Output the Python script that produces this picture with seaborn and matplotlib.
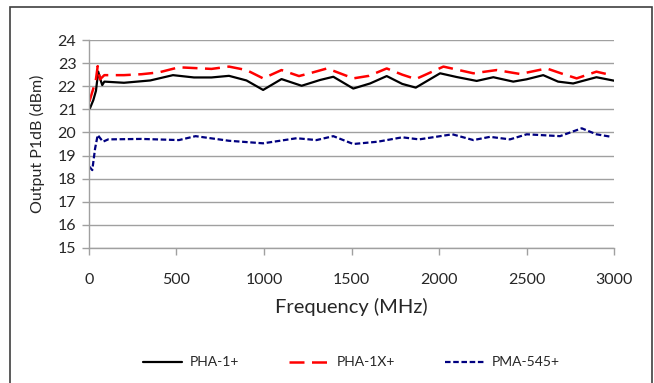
import pandas as pd
import matplotlib
matplotlib.use("Agg")
import matplotlib.pyplot as plt
from matplotlib.patches import Rectangle
import seaborn as sns

# values
freq_pha1 = [6, 25, 40, 53, 65, 76, 88, 200, 350, 480, 600, 700, 800, 900, 995, 1100, 1215,
             1320, 1396, 1510, 1606, 1701, 1790, 1867, 2006, 2100, 2215, 2310, 2424, 2500, 2595,
             2680, 2766, 2899, 3000]
p1db_pha1 = [21.05, 21.4, 21.8, 22.63, 22.3, 22.05, 22.2, 22.15, 22.25, 22.48, 22.38, 22.38,
             22.45, 22.25, 21.84, 22.31, 22.02, 22.27, 22.41, 21.9, 22.12, 22.44, 22.1, 21.94,
             22.56, 22.4, 22.23, 22.39, 22.2, 22.3, 22.48, 22.2, 22.12, 22.39, 22.24]

freq_pha1x = [2, 25, 40, 50, 63, 88, 200, 300, 400, 514, 700, 800, 900, 995, 1100, 1200,
              1280, 1360, 1396, 1510, 1600, 1701, 1790, 1867, 2025, 2196, 2329, 2463, 2615,
              2700, 2786, 2899, 2985]
p1db_pha1x = [21.33, 21.9, 22.3, 22.87, 22.3, 22.48, 22.48, 22.52, 22.6, 22.82, 22.75, 22.85,
              22.7, 22.34, 22.7, 22.44, 22.6, 22.77, 22.67, 22.34, 22.45, 22.77, 22.5, 22.31,
              22.85, 22.56, 22.7, 22.53, 22.77, 22.55, 22.34, 22.63, 22.48]

freq_pma545 = [2, 19, 35, 50, 80, 110, 300, 514, 609, 800, 995, 1186, 1300, 1396, 1510,
               1650, 1790, 1886, 2076, 2196, 2291, 2405, 2501, 2691, 2815, 2899, 2985]
p1db_pma545 = [18.52, 18.37, 19.3, 19.89, 19.6, 19.7, 19.72, 19.67, 19.84, 19.64, 19.53,
               19.75, 19.67, 19.84, 19.5, 19.6, 19.79, 19.7, 19.92, 19.67, 19.81, 19.7, 19.92,
               19.84, 20.18, 19.92, 19.81]

x_ticks = [0, 500, 1000, 1500, 2000, 2500, 3000]
y_ticks = [15, 16, 17, 18, 19, 20, 21, 22, 23, 24]

sns.set_style("white")
plt.rcParams['font.family'] = ['Lato', 'DejaVu Sans']

fig = plt.figure(figsize=(6.54, 3.83), dpi=100)
ax = fig.add_axes([0.136, 0.3525, 0.803, 0.543])

sns.lineplot(x=freq_pha1, y=p1db_pha1, ax=ax, color="black", lw=1.6, label="PHA-1+")
sns.lineplot(x=freq_pha1x, y=p1db_pha1x, ax=ax, color="#ff0000", lw=1.8,
             label="PHA-1X+").lines[-1].set_dashes([6, 3])
sns.lineplot(x=freq_pma545, y=p1db_pma545, ax=ax, color="#000080", lw=1.6,
             label="PMA-545+").lines[-1].set_dashes([2.5, 1.2])

ax.set_xlim(0, 3000)
ax.set_ylim(15, 24)
ax.set_xticks(x_ticks)
ax.set_yticks(y_ticks)
ax.yaxis.grid(True, color="#a0a0a0", lw=1)
ax.xaxis.grid(False)
for s in ["top", "right"]:
    ax.spines[s].set_visible(False)
for s in ["left", "bottom"]:
    ax.spines[s].set_color("#a0a0a0")
    ax.spines[s].set_linewidth(1)
ax.tick_params(axis="both", which="both", length=5, width=1, color="#a0a0a0",
               labelsize=11.5, direction="out", bottom=True, left=True)
ax.tick_params(axis="x", pad=13)
ax.tick_params(axis="y", pad=4)
ax.set_xlabel("Frequency (MHz)", fontsize=14.5, labelpad=8)
ax.set_ylabel("Output P1dB (dBm)", fontsize=11.5, labelpad=9)

ax.legend(loc="center", bbox_to_anchor=(0.5, -0.55), ncol=3, frameon=False,
          fontsize=10, handlelength=2.8, columnspacing=3.6, handletextpad=0.6)

fig.patches.append(Rectangle((10 / 654, -0.01), 642 / 654, 1 - 7 / 383 + 0.01,
                             transform=fig.transFigure, fill=False, ec="#404040", lw=1.2))

fig.savefig("out.png", dpi=100)
